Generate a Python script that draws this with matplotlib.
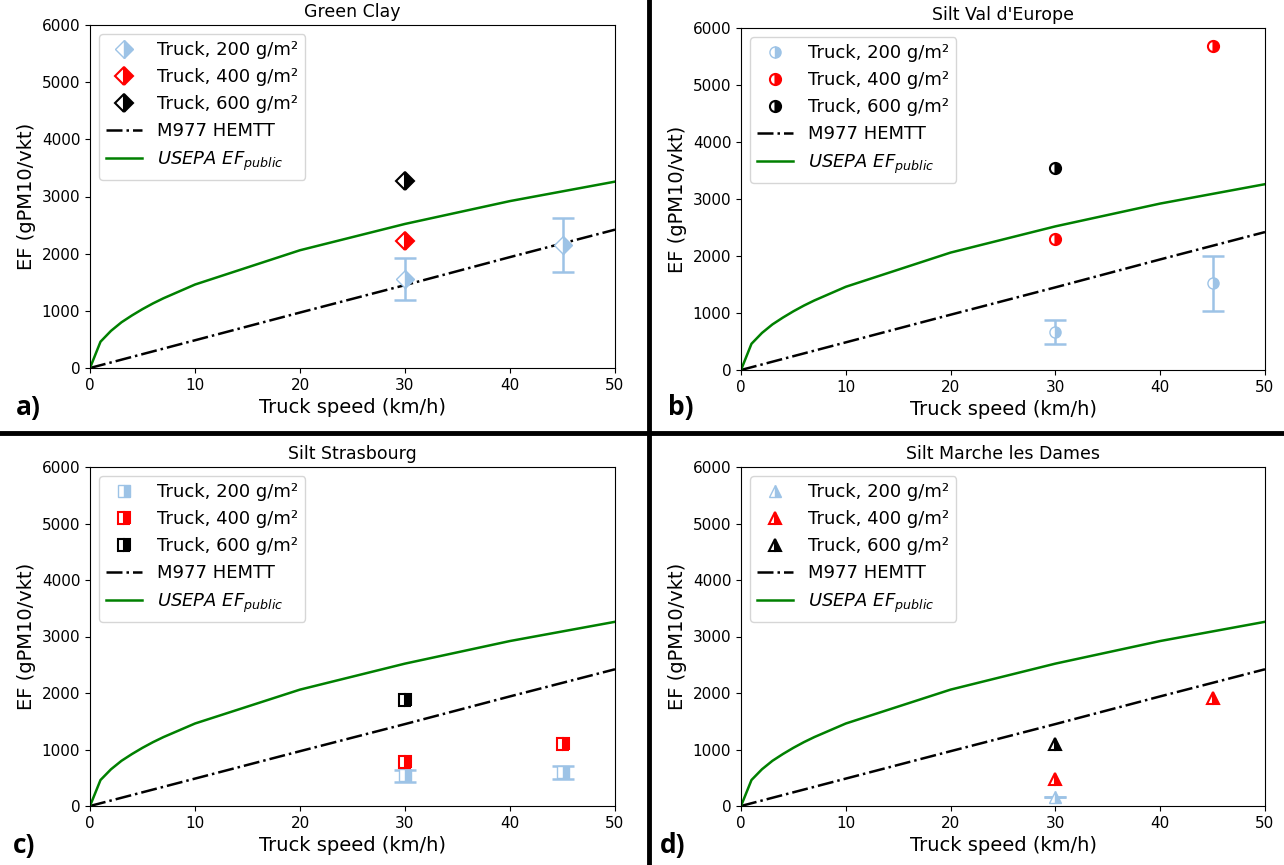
"""EF vs truck speed, four soils"""
import matplotlib
matplotlib.use("Agg")
import matplotlib.pyplot as plt
from matplotlib.lines import Line2D

# reference curves
usepa_speed = [0, 1, 2, 3, 4, 5, 6, 7, 8, 9, 10, 20, 30, 40, 50]
usepa_ef = [0, 460, 650, 800, 920, 1030, 1130, 1220, 1300, 1380, 1460,
            2060, 2520, 2920, 3260]
hemtt_speed = [0, 10, 20, 30, 40, 50]
hemtt_ef = [0, 485, 970, 1450, 1940, 2420]

titles = ["Green Clay", "Silt Val d'Europe", "Silt Strasbourg",
          "Silt Marche les Dames"]
panel_tags = ["a)", "b)", "c)", "d)"]
markers = ["D", "o", "s", "^"]

# measurements per soil: speeds, EF, and error bars (200 g/m2 only)
speed_200 = [[30, 45], [30, 45], [30, 45], [30]]
ef_200 = [[1550, 2150], [670, 1520], [550, 600], [160]]
err_lo_200 = [[360, 470], [210, 480], [120, 120], [0]]
err_hi_200 = [[370, 480], [200, 480], [90, 110], [0]]

speed_400 = [[30], [30, 45], [30, 45], [30, 45]]
ef_400 = [[2220], [2290, 5680], [780, 1090], [470, 1920]]

speed_600 = [[30], [30], [30], [30]]
ef_600 = [[3270], [3540], [1880], [1100]]

light_blue = "#9dc3e6"
ms = [9, 8, 8, 8]

fig = plt.figure(figsize=(12.84, 8.65), dpi=100)
W, H = 1284, 865
# axes boxes in pixels: left, top, right, bottom
boxes = [(90, 25, 615, 368), (741, 28, 1265, 370),
         (90, 467, 615, 806), (741, 467, 1265, 806)]
tag_pos = [(16, 408), (668, 408), (13, 845), (660, 845)]

for i in range(4):
    l, t, r, b = boxes[i]
    ax = fig.add_axes([l / W, 1 - b / H, (r - l) / W, (b - t) / H])
    m = markers[i]

    ax.errorbar(speed_200[i], ef_200[i],
                yerr=[err_lo_200[i], err_hi_200[i]],
                fmt=m, color=light_blue, ms=ms[i], fillstyle="right",
                markerfacecoloralt="white", mec=light_blue,
                ecolor=light_blue, elinewidth=1.8, capsize=8, capthick=1.8,
                zorder=3)
    ax.plot(speed_400[i], ef_400[i], m, color="red", ms=ms[i],
            fillstyle="right", markerfacecoloralt="white", mec="red",
            mew=1.5, zorder=4)
    ax.plot(speed_600[i], ef_600[i], m, color="black", ms=ms[i],
            fillstyle="right", markerfacecoloralt="white", mec="black",
            mew=1.5, zorder=4)
    ax.plot(hemtt_speed, hemtt_ef, "-.", color="black", lw=1.8, zorder=2)
    ax.plot(usepa_speed, usepa_ef, "-", color="green", lw=1.8, zorder=2)

    handles = [
        Line2D([], [], ls="", marker=m, color=light_blue, ms=ms[i],
               fillstyle="right", markerfacecoloralt="white", mec=light_blue),
        Line2D([], [], ls="", marker=m, color="red", ms=ms[i],
               fillstyle="right", markerfacecoloralt="white", mec="red",
               mew=1.5),
        Line2D([], [], ls="", marker=m, color="black", ms=ms[i],
               fillstyle="right", markerfacecoloralt="white", mec="black",
               mew=1.5),
        Line2D([], [], ls="-.", color="black", lw=1.8),
        Line2D([], [], ls="-", color="green", lw=1.8),
    ]
    names = ["Truck, 200 g/m²", "Truck, 400 g/m²", "Truck, 600 g/m²",
             "M977 HEMTT", r"$USEPA\ EF_{public}$"]
    ax.legend(handles, names, loc="upper left", fontsize=13, numpoints=1,
              labelspacing=0.5)

    ax.set_xlim(0, 50)
    ax.set_ylim(0, 6000)
    ax.set_xticks([0, 10, 20, 30, 40, 50])
    ax.set_yticks([0, 1000, 2000, 3000, 4000, 5000, 6000])
    ax.tick_params(labelsize=11)
    ax.set_title(titles[i], fontsize=12.5)
    ax.set_xlabel("Truck speed (km/h)", fontsize=14)
    ax.set_ylabel("EF (gPM10/vkt)", fontsize=14)

    tx, ty = tag_pos[i]
    fig.text(tx / W, 1 - ty / H, panel_tags[i], fontsize=19,
             fontweight="bold", family="Open Sans", va="center", ha="left")

# divider lines between the panels
fig.add_artist(Line2D([0, 1], [1 - 433 / H, 1 - 433 / H], color="black",
                      lw=3.5, transform=fig.transFigure))
fig.add_artist(Line2D([649 / W, 649 / W], [0, 1], color="black",
                      lw=3.5, transform=fig.transFigure))

fig.savefig("out.png", dpi=100)
